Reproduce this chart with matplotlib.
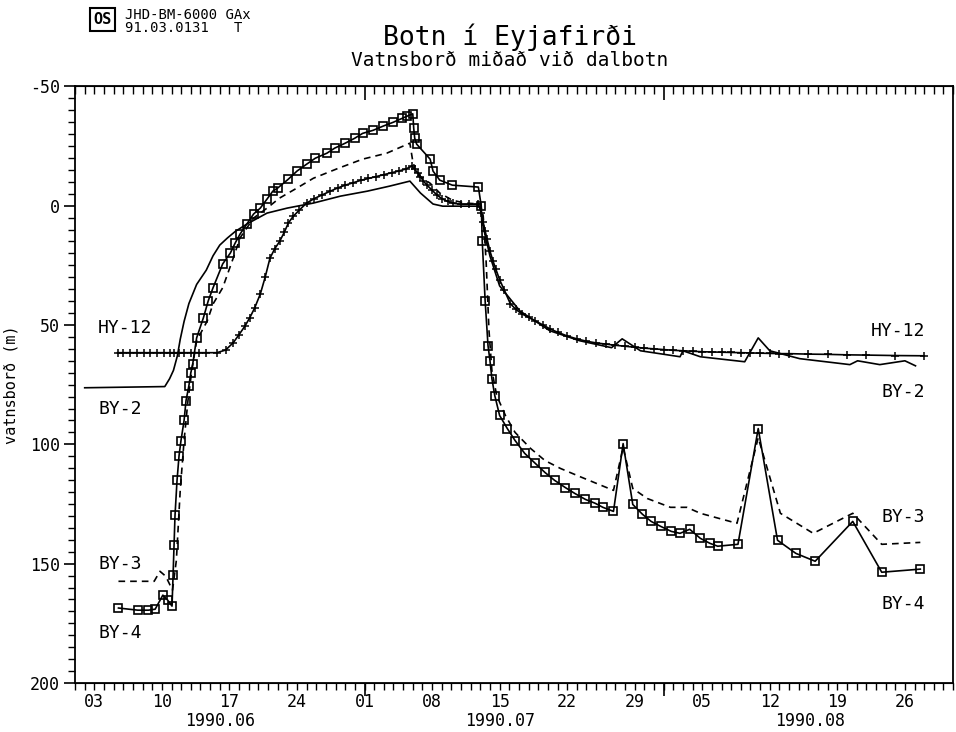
# -*- coding: utf-8 -*-
"""
Botn i Eyjafirdi - water level in wells, summer 1990
"""

import numpy as np
import matplotlib.pyplot as plt
import matplotlib.dates as mdates
from matplotlib.patches import Rectangle

plt.rcParams['font.family'] = ['DejaVu Sans Mono', 'DejaVu Sans']
plt.rcParams['axes.unicode_minus'] = False

start = np.datetime64('1990-06-01T00:00')  # day 0


def to_dates(days):
    return start + (np.asarray(days) * 1440).astype('timedelta64[m]')


# HY-12 (days after 1990-06-01, water level in m)
hy12_days = [4.4, 5.0, 5.7, 6.4, 7.1, 7.8, 8.5, 9.2, 9.8, 10.3, 10.8, 11.3, 12.0, 12.8, 13.6,
             14.7, 15.6, 16.4, 17.0, 17.6, 18.1, 18.6, 19.2, 19.7, 20.2, 20.7, 21.2, 21.7, 22.1,
             22.6, 23.2, 24.0, 24.8, 25.6, 26.4, 27.2, 28.0, 28.8, 29.6, 30.4, 31.2, 32.0, 32.8,
             33.6, 34.3, 34.9, 35.2, 35.5, 35.8, 36.1, 36.5, 37.0, 37.5, 38.0, 38.6, 39.2, 40.0,
             40.8, 41.8, 42.1, 42.3, 42.5, 42.7, 43.0, 43.3, 43.6, 44.0, 44.5, 45.1, 45.7, 46.3,
             47.0, 47.7, 48.5, 49.2, 50.0, 51.0, 52.0, 53.0, 54.0, 55.0, 56.0, 57.0, 58.0, 59.0,
             60.0, 61.0, 62.0, 63.0, 64.0, 65.0, 66.0, 67.0, 68.0, 69.0, 70.0, 71.0, 72.0, 73.0,
             74.0, 76.0, 78.0, 80.0, 82.0, 85.0, 88.0]
hy12_m = [61.6, 61.6, 61.6, 61.6, 61.6, 61.6, 61.6, 61.6, 61.6, 61.6, 61.6, 61.6, 61.6, 61.6, 61.6,
          61.6, 60.5, 57.4, 54.0, 50.5, 47.0, 43.0, 37.0, 30.0, 22.0, 18.0, 15.0, 11.0, 7.3,
          4.5, 2.0, -1.1, -3.0, -4.5, -6.0, -7.4, -8.6, -9.6, -10.6, -11.4, -12.2, -13.0, -13.8,
          -14.6, -15.4, -16.6, -15.2, -13.8, -12.2, -10.3, -8.5, -6.5, -4.5, -3.0, -1.8, -1.0, -0.6,
          -0.6, -0.6, 3.0, 7.0, 10.6, 14.0, 19.0, 23.0, 26.5, 31.0, 35.5, 41.0, 43.5, 45.3,
          46.8, 48.3, 50.0, 51.6, 53.0, 54.6, 55.8, 56.8, 57.5, 58.0, 58.5, 58.9, 59.3, 59.7,
          60.0, 60.3, 60.6, 60.8, 61.0, 61.2, 61.3, 61.4, 61.5, 61.6, 61.7, 61.8, 61.9, 62.0,
          62.0, 62.2, 62.3, 62.5, 62.6, 62.8, 62.9]

# BY-2
by2_days = [1.0, 9.3, 9.8, 10.2, 10.6, 10.9, 11.3, 11.8, 12.6, 13.6, 14.3, 15.0, 15.8, 16.6, 17.8,
            19.9, 22.0, 24.7, 27.5, 30.3, 32.6, 34.7, 35.8, 37.1, 38.1, 42.0, 42.4, 43.0, 44.0,
            46.1, 49.2, 52.3, 55.6, 56.7, 58.6, 62.7, 63.0, 64.8, 69.4, 70.8, 72.0, 75.1, 80.3,
            81.1, 83.4, 86.0, 87.1]
by2_m = [76.3, 75.8, 72.5, 69.0, 63.0, 56.0, 48.5, 41.0, 33.0, 27.0, 21.0, 16.5, 13.5, 10.8, 7.7,
         3.1, 1.0, -1.1, -4.0, -6.1, -8.2, -10.3, -5.3, -0.7, 0.2, 0.2, 10.6, 21.1, 33.6,
         44.1, 52.4, 56.6, 59.5, 55.8, 60.8, 63.3, 60.8, 63.3, 65.4, 55.4, 60.8, 64.1, 66.6,
         65.0, 66.6, 65.0, 67.1]

# BY-3
by3_days = [4.5, 8.2, 8.8, 9.4, 10.1, 10.5, 10.9, 11.3, 11.7, 12.1, 12.6, 13.7, 14.3, 15.3,
            16.4, 17.1, 18.5, 19.9, 21.2, 23.0, 24.7, 27.3, 29.8, 32.3, 34.7, 35.0, 35.4, 36.8,
            37.8, 39.1, 40.4, 42.0, 42.3, 42.6, 42.9, 43.2, 43.7, 44.6, 45.6, 47.2, 48.7, 50.3,
            52.3, 55.8, 56.8, 57.8, 59.3, 61.7, 63.4, 64.8, 68.6, 70.8, 73.1, 76.5, 80.6, 83.6,
            87.6]
by3_m = [157.4, 157.4, 153.2, 155.3, 161.1, 148.6, 119.3, 98.4, 81.7, 69.1, 56.6, 48.3, 41.2, 34.4,
         21.9, 13.5, 5.2, 1.0, -3.2, -7.4, -11.5, -15.7, -19.5, -22.0, -26.2, -18.6, -13.2, -9.4,
         -5.3, -2.3, -1.1, -0.7, 4.3, 23.2, 52.4, 69.1, 79.6, 87.9, 95.0, 101.7, 106.8, 110.1,
         113.5, 119.3, 101.3, 118.5, 122.7, 126.4, 126.4, 128.9, 133.1, 97.2, 128.9, 137.3, 128.9, 141.9,
         141.1]

# BY-4
by4_days = [4.5, 6.5, 7.6, 8.3, 9.1, 9.6, 10.05, 10.16, 10.26, 10.36, 10.57, 10.78, 10.98, 11.3,
            11.5, 11.8, 12.0, 12.2, 12.6, 13.3, 13.8, 14.3, 15.3, 16.1, 16.6, 17.1, 17.8, 18.5,
            19.2, 19.9, 20.5, 21.0, 22.1, 23.0, 24.0, 24.9, 26.1, 26.9, 28.0, 29.0, 29.8, 30.9,
            31.9, 33.0, 33.9, 34.4, 35.0, 35.1, 35.2, 35.4, 36.8, 37.1, 37.8, 39.1, 41.8, 42.1,
            42.2, 42.5, 42.8, 43.0, 43.2, 43.5, 44.0, 44.8, 45.6, 46.6, 47.7, 48.7, 49.7, 50.8,
            51.8, 52.9, 53.9, 54.7, 55.8, 56.8, 57.8, 58.8, 59.7, 60.7, 61.8, 62.7, 63.7, 64.8,
            65.8, 66.6, 68.7, 70.8, 72.8, 74.7, 76.7, 80.6, 83.6, 87.6]
by4_m = [168.6, 169.5, 169.5, 169.1, 163.2, 165.3, 167.8, 154.8, 142.3, 129.8, 115.1, 104.7, 98.4, 90.0,
         81.7, 75.4, 70.0, 66.2, 55.4, 47.0, 39.9, 34.4, 24.4, 19.8, 15.6, 11.9, 7.7, 3.5,
         1.0, -2.8, -6.1, -7.4, -11.1, -14.5, -17.4, -19.9, -22.0, -24.1, -26.2, -28.3, -30.3, -31.6,
         -33.3, -35.0, -36.6, -37.5, -38.5, -32.4, -28.3, -25.8, -19.5, -14.5, -10.7, -8.6, -7.8, 0.2,
         14.8, 39.9, 58.7, 64.9, 72.5, 79.6, 87.9, 93.4, 98.4, 103.8, 108.0, 111.8, 115.1, 118.1,
         120.6, 123.1, 124.7, 126.4, 128.1, 99.7, 125.2, 129.3, 132.3, 134.4, 136.5, 137.3, 135.6, 139.4,
         141.5, 142.7, 141.9, 93.4, 140.2, 145.7, 149.0, 132.3, 153.6, 152.3]

# well names, at the left and right ends (m)
names = ['HY-12', 'BY-2', 'BY-3', 'BY-4']
left_pos = [51.2, 85.0, 150.0, 179.0]
right_pos = [52.4, 78.0, 130.6, 167.0]

# labelled days (days after 1990-06-01): 03.06 ... 26.08
day_labels = [2, 9, 16, 23, 30, 37, 44, 51, 58, 65, 72, 79, 86]
month_names = ['1990.06', '1990.07', '1990.08']
month_mid = [15.0, 44.0, 76.2]
month_starts = [30, 61]

fig = plt.figure(figsize=(9.56, 7.32), dpi=100)
ax = fig.add_axes([0.0785, 0.067, 0.9185, 0.815])

ax.plot(to_dates(by2_days), by2_m, '-', color='k', lw=1.2)
ax.plot(to_dates(by3_days), by3_m, '--', color='k', lw=1.2, dashes=(4, 3))
ax.plot(to_dates(hy12_days), hy12_m, '-', color='k', lw=1.2, marker='+', ms=6, mew=1.1)
ax.plot(to_dates(by4_days), by4_m, '-', color='k', lw=1.2, marker='s', ms=5.5, mew=1.2,
        mfc='none', mec='k')

ax.set_xlim(to_dates(0), to_dates(91))
ax.set_ylim(200, -50)

# y axis
ax.set_yticks(np.arange(-50, 201, 50))
ax.set_yticks(np.arange(-50, 201, 5), minor=True)
ax.tick_params(axis='y', which='major', direction='out', length=8, width=1.2, labelsize=12, pad=3)
ax.tick_params(axis='y', which='minor', direction='out', length=5, width=1.0)
ax.set_ylabel('vatnsborð (m)', fontsize=11, labelpad=8)

# x axis: daily ticks, labelled once a week
ax.set_xticks(to_dates(day_labels))
ax.xaxis.set_major_formatter(mdates.DateFormatter('%d'))
ax.xaxis.set_minor_locator(mdates.DayLocator())
ax.tick_params(axis='x', which='both', direction='out', length=5, width=1.0, labelsize=12, pad=2)

for name, x in zip(month_names, month_mid):
    ax.text(to_dates(x), -0.063, name, transform=ax.get_xaxis_transform(),
            ha='center', va='center', fontsize=12)

# longer ticks at month starts, and inward ticks along the top
bot = ax.secondary_xaxis('bottom')
bot.set_xticks(to_dates(month_starts))
bot.tick_params(direction='out', length=9, width=1.2, labelbottom=False)
top = ax.secondary_xaxis('top')
top.set_xticks(to_dates(month_starts))
top.xaxis.set_minor_locator(mdates.DayLocator())
top.tick_params(which='major', direction='in', length=10, width=1.2, labeltop=False)
top.tick_params(which='minor', direction='in', length=6, width=1.0)

for sp in ax.spines.values():
    sp.set_linewidth(1.3)

# curve names
for name, yl, yr in zip(names, left_pos, right_pos):
    ax.text(to_dates(2.4), yl, name, ha='left', va='center', fontsize=13)
    ax.text(to_dates(88.1), yr, name, ha='right', va='center', fontsize=13)

# header
fig.add_artist(Rectangle((0.094, 0.957), 0.026, 0.032, transform=fig.transFigure,
                         fill=False, lw=1.5, ec='k'))
fig.text(0.107, 0.973, 'OS', ha='center', va='center', fontsize=11, fontweight='bold')
fig.text(0.131, 0.9795, 'JHD-BM-6000 GAx', ha='left', va='center', fontsize=10)
fig.text(0.131, 0.9617, '91.03.0131   T', ha='left', va='center', fontsize=10)
fig.text(0.533, 0.949, 'Botn í Eyjafirði', ha='center', va='center', fontsize=19)
fig.text(0.533, 0.918, 'Vatnsborð miðað við dalbotn', ha='center', va='center', fontsize=14)

fig.savefig('out.png', dpi=100)
